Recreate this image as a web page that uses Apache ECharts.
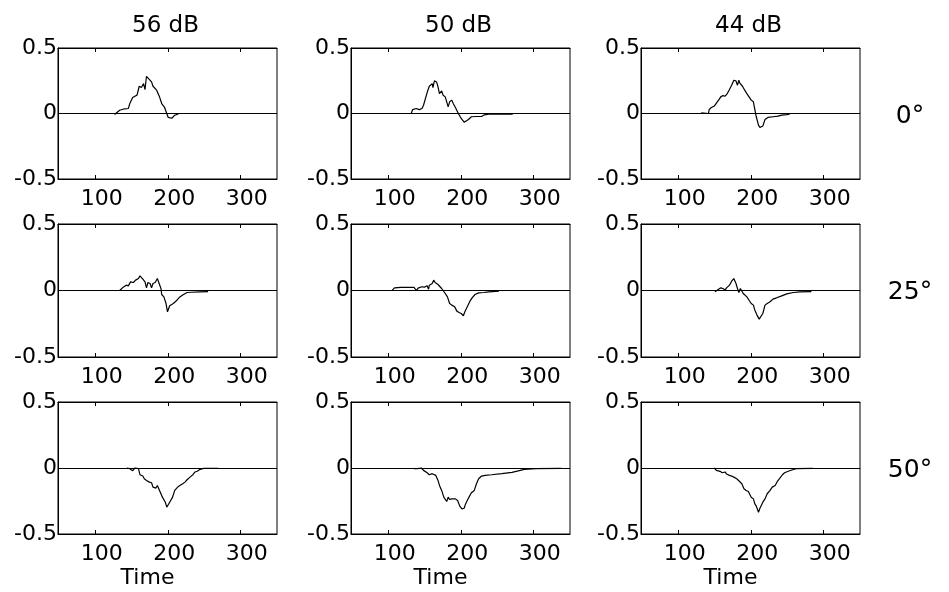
<!DOCTYPE html>
<html><head><meta charset="utf-8">
<script src="https://cdn.jsdelivr.net/npm/echarts@6/dist/echarts.min.js"></script>
<style>html,body{margin:0;padding:0;background:#fff}#c{width:949px;height:592px}</style>
</head><body><div id="c"></div>
<script>
const levels = ['56 dB', '50 dB', '44 dB'];
const angles = ['0°', '25°', '50°'];
const xTicks = [100, 200, 300];
const xMin = 48, xMax = 350;

// 56 dB, 0°
const t_56_0 = [126,133,140,145,147,151,154,157,160,163,166,168,170,172,177,179,184,188,191,195,198,200,205,209,214];
const v_56_0 = [-0.008,0.025,0.036,0.038,0.076,0.122,0.132,0.140,0.208,0.198,0.228,0.183,0.284,0.274,0.241,0.208,0.178,0.127,0.076,0.046,0,-0.030,-0.036,-0.013,-0.003];
// 50 dB, 0°
const t_50_0 = [131,133,138,142,146,148,152,154,156,160,161,163,166,168,170,173,175,178,182,184,187,189,192,196,200,204,210,214,221,228,232,238,256,271];
const v_50_0 = [0,0.030,0.038,0.030,0.038,0.063,0.140,0.178,0.208,0.228,0.198,0.249,0.241,0.203,0.152,0.173,0.140,0.127,0.051,0.089,0.102,0.076,0.046,0,-0.038,-0.066,-0.046,-0.025,-0.023,-0.023,-0.010,-0.005,-0.005,-0.005];
// 44 dB, 0°
const t_44_0 = [131,141,142,145,149,151,155,158,161,164,167,170,173,176,179,181,183,184,188,191,194,197,200,203,205,207,210,212,216,219,223,230,237,242,249,253];
const v_44_0 = [0.005,0,0.030,0.046,0.056,0.046,0.102,0.127,0.137,0.132,0.152,0.183,0.216,0.254,0.249,0.216,0.254,0.234,0.208,0.178,0.152,0.127,0.102,0.089,0.030,-0.025,-0.089,-0.107,-0.096,-0.046,-0.030,-0.025,-0.020,-0.013,-0.008,-0.005];
// 56 dB, 25°
const t_56_25 = [133,138,142,145,148,152,155,159,161,165,168,170,172,175,177,179,182,185,188,190,191,194,197,199,202,207,212,216,221,226,232,244,255];
const v_56_25 = [0,0.025,0.040,0.035,0.065,0.060,0.078,0.090,0.110,0.085,0.065,0.020,0.060,0.053,0.020,0.053,0.060,0.090,0.045,0.015,-0.030,-0.048,-0.098,-0.160,-0.115,-0.098,-0.073,-0.048,-0.030,-0.015,-0.013,-0.010,-0.008];
// 50 dB, 25°
const t_50_25 = [105,108,117,135,138,141,146,149,153,155,156,160,162,164,168,170,173,175,177,181,184,187,189,191,194,197,200,203,205,209,212,215,219,224,231,238,252];
const v_50_25 = [0.003,0.020,0.023,0.023,0,0.020,0.028,0.025,0.035,0.010,0.040,0.053,0.078,0.060,0.045,0.053,0.015,0.003,-0.015,-0.048,-0.098,-0.110,-0.105,-0.123,-0.155,-0.165,-0.173,-0.190,-0.160,-0.115,-0.080,-0.055,-0.030,-0.018,-0.015,-0.010,-0.005];
// 44 dB, 25°
const t_44_25 = [150,155,158,161,164,166,170,173,176,179,181,183,185,187,189,191,194,197,200,203,205,208,211,213,216,219,222,226,230,235,242,249,258,267,283];
const v_44_25 = [-0.010,0.010,0.020,0.015,0.003,0.020,0.040,0.070,0.090,0.053,0.015,-0.015,0.015,0.003,-0.023,-0.030,-0.048,-0.073,-0.098,-0.110,-0.148,-0.185,-0.215,-0.211,-0.173,-0.110,-0.098,-0.085,-0.065,-0.055,-0.040,-0.025,-0.015,-0.010,-0.008];
// 56 dB, 50°
const t_56_50 = [143,147,151,154,156,159,161,165,167,170,174,177,179,183,185,188,190,192,196,198,200,202,206,209,213,216,220,223,226,230,234,237,240,244,249,269];
const v_56_50 = [0,-0.005,-0.020,0,0.005,-0.005,-0.051,-0.061,-0.081,-0.094,-0.107,-0.112,-0.145,-0.152,-0.132,-0.170,-0.183,-0.221,-0.259,-0.297,-0.289,-0.259,-0.221,-0.170,-0.145,-0.132,-0.119,-0.107,-0.089,-0.069,-0.051,-0.030,-0.025,-0.010,-0.003,-0.003];
// 50 dB, 50°
const t_50_50 = [135,140,145,148,153,156,160,162,165,168,170,173,176,180,182,184,187,189,192,195,198,201,204,206,210,214,218,221,224,228,233,242,256,270,280,287,303,338];
const v_50_50 = [-0.005,-0.005,0,-0.018,-0.036,-0.051,-0.043,-0.030,-0.056,-0.094,-0.132,-0.170,-0.221,-0.254,-0.221,-0.239,-0.234,-0.228,-0.234,-0.246,-0.289,-0.310,-0.305,-0.272,-0.228,-0.188,-0.170,-0.119,-0.081,-0.061,-0.056,-0.051,-0.043,-0.033,-0.020,-0.010,-0.005,-0.003];
// 44 dB, 50°
const t_44_50 = [149,152,157,160,164,166,170,173,176,180,182,184,187,190,193,196,198,200,203,205,207,210,212,214,216,219,222,226,229,233,236,239,243,246,251,257,262,285];
const v_44_50 = [0,-0.018,-0.025,-0.036,-0.030,-0.046,-0.056,-0.061,-0.069,-0.081,-0.076,-0.102,-0.119,-0.157,-0.170,-0.178,-0.188,-0.221,-0.234,-0.272,-0.289,-0.335,-0.305,-0.310,-0.259,-0.234,-0.195,-0.170,-0.145,-0.132,-0.102,-0.081,-0.051,-0.036,-0.025,-0.013,-0.005,-0.003];

const panels = [
  [t_56_0, v_56_0], [t_50_0, v_50_0], [t_44_0, v_44_0],
  [t_56_25, v_56_25], [t_50_25, v_50_25], [t_44_25, v_44_25],
  [t_56_50, v_56_50], [t_50_50, v_50_50], [t_44_50, v_44_50]
];

const colLeft = [58, 351, 641], colW = 219;
const rowTop = [48, 224, 402], rowH = [131, 133, 132];
const FONT = 'DejaVu Sans';

const grids = [], xAxes = [], yAxes = [], series = [];
panels.forEach((p, i) => {
  const r = Math.floor(i / 3), c = i % 3;
  grids.push({left: colLeft[c], top: rowTop[r], width: colW, height: rowH[r],
    show: true, borderColor: '#000', borderWidth: 1, containLabel: false});
  xAxes.push({type: 'value', gridIndex: i, min: xMin, max: xMax, position: 'bottom',
    axisLine: {show: true, onZero: false, lineStyle: {color: '#000', width: 1}},
    axisTick: {show: true, inside: true, length: 4, customValues: xTicks, lineStyle: {color: '#000'}},
    axisLabel: {customValues: xTicks, color: '#000', fontSize: 22, fontFamily: FONT, margin: 9, padding: [0, 0, 0, 12]},
    splitLine: {show: false},
    name: r === 2 ? 'Time' : '', nameLocation: 'middle', nameGap: 33,
    nameTextStyle: {color: '#000', fontSize: 22, fontFamily: FONT, padding: [0, 40, 0, 0]}});
  xAxes.push({type: 'value', gridIndex: i, min: xMin, max: xMax, position: 'top',
    axisLine: {show: true, onZero: false, lineStyle: {color: '#000', width: 1}},
    axisTick: {show: true, inside: true, length: 4, customValues: xTicks, lineStyle: {color: '#000'}},
    axisLabel: {show: false}, splitLine: {show: false}});
  yAxes.push({type: 'value', gridIndex: i, min: -0.5, max: 0.5, interval: 0.5,
    axisLine: {show: true, onZero: false, lineStyle: {color: '#000', width: 1}},
    axisTick: {show: true, inside: true, length: 4, lineStyle: {color: '#000'}},
    axisLabel: {color: '#000', fontSize: 22, fontFamily: FONT, margin: 1, padding: [9, 0, 0, 0]},
    splitLine: {show: false}});
  series.push({type: 'line', xAxisIndex: 2 * i, yAxisIndex: i,
    data: p[0].map((t, k) => [t, p[1][k]]),
    showSymbol: false, symbol: 'none', silent: true, animation: false,
    lineStyle: {color: '#000', width: 1.2},
    markLine: {silent: true, symbol: ['none', 'none'], label: {show: false}, animation: false,
      lineStyle: {color: '#000', width: 1, type: 'solid'}, data: [{yAxis: 0}]}});
});

const graphics = [];
levels.forEach((lv, c) => {
  graphics.push({type: 'text', x: colLeft[c] + colW / 2 - 2, y: 26,
    style: {text: lv, fill: '#000', font: '23px "DejaVu Sans"', align: 'center', verticalAlign: 'middle'}});
});
const rowLabelY = [116, 292, 470];
angles.forEach((a, r) => {
  graphics.push({type: 'text', x: 910, y: rowLabelY[r],
    style: {text: a, fill: '#000', font: '25px "DejaVu Sans"', align: 'center', verticalAlign: 'middle'}});
});

const chart = echarts.init(document.getElementById('c'), null, {renderer: 'canvas'});
chart.setOption({
  animation: false,
  backgroundColor: '#fff',
  grid: grids, xAxis: xAxes, yAxis: yAxes, series: series,
  graphic: graphics
});
</script></body></html>
